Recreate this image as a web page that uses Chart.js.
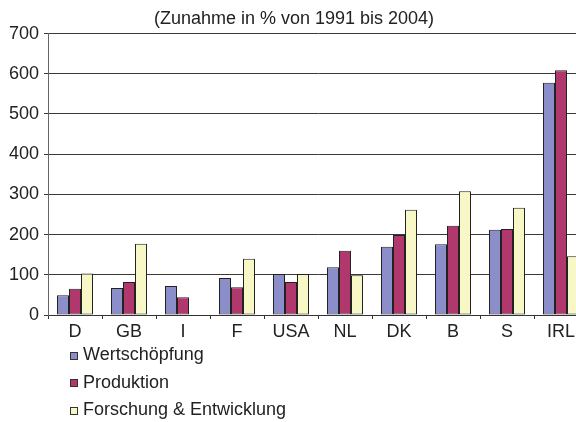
<!DOCTYPE html>
<html lang="de">
<head>
<meta charset="UTF-8">
<title>Zunahme in % von 1991 bis 2004</title>
<script src="https://cdn.jsdelivr.net/npm/chart.js"></script>
<style>
    html, body { margin: 0; padding: 0; background: #fff; overflow: hidden; }
    .chart-box { position: relative; width: 588px; height: 422px; }
</style>
</head>
<body>
<div class="chart-box">
    <canvas id="growthChart"></canvas>
</div>

<script>
    // Länder und Zunahme in % (1991 bis 2004)
    const categories = ['D', 'GB', 'I', 'F', 'USA', 'NL', 'DK', 'B', 'S', 'IRL'];
    const wertschoepfung = [49, 67, 72, 92, 102, 119, 170, 176, 212, 578];
    const produktion = [65, 82, 44, 69, 82, 160, 199, 222, 214, 609];
    const forschung = [103, 177, null, 140, 102, 99, 262, 308, 267, 146];
    const yTicks = [0, 100, 200, 300, 400, 500, 600, 700];

    const seriesNames = ['Wertschöpfung', 'Produktion', 'Forschung & Entwicklung'];
    const seriesColors = ['#8b8ec8', '#b0386c', '#f8f7c6'];
    const fontFamily = '"Liberation Sans", Arial, Helvetica, sans-serif';

    // Legende untereinander, links unter der Achse
    const stackedLegend = {
        id: 'stackedLegend',
        afterDraw(chart) {
            const ctx = chart.ctx;
            ctx.save();
            ctx.font = '18px ' + fontFamily;
            ctx.textBaseline = 'middle';
            chart.data.datasets.forEach((ds, i) => {
                const y = 355.5 + i * 27.5;
                ctx.fillStyle = ds.backgroundColor;
                ctx.fillRect(70, Math.round(y) - 4, 8, 8);
                ctx.strokeStyle = '#333';
                ctx.lineWidth = 1;
                ctx.strokeRect(70.5, Math.round(y) - 3.5, 7, 7);
                ctx.fillStyle = '#222';
                ctx.fillText(ds.label, 83, y);
            });
            ctx.restore();
        }
    };

    function makeSeries(i, values) {
        return {
            label: seriesNames[i],
            data: values,
            backgroundColor: seriesColors[i],
            borderColor: '#222',
            borderWidth: 1,
            borderSkipped: false,
            inflateAmount: 0,
            categoryPercentage: 2 / 3,
            barPercentage: 1.0
        };
    }

    const ctxGrowth = document.getElementById('growthChart').getContext('2d');
    const growthChart = new Chart(ctxGrowth, {
        type: 'bar',
        data: {
            labels: categories,
            datasets: [
                makeSeries(0, wertschoepfung),
                makeSeries(1, produktion),
                makeSeries(2, forschung)
            ]
        },
        options: {
            responsive: true,
            maintainAspectRatio: false,
            animation: false,
            layout: { padding: 0 },
            plugins: {
                legend: { display: false },
                tooltip: { enabled: false },
                title: {
                    display: true,
                    text: '(Zunahme in % von 1991 bis 2004)',
                    color: '#222',
                    font: { family: fontFamily, size: 18, weight: 'normal' },
                    padding: { top: 8, bottom: 4 }
                }
            },
            scales: {
                x: {
                    grid: {
                        offset: true,
                        drawOnChartArea: false,
                        drawTicks: true,
                        tickLength: 4,
                        color: '#333'
                    },
                    border: { color: '#333' },
                    ticks: {
                        color: '#222',
                        padding: 2,
                        font: { family: fontFamily, size: 18 }
                    },
                    afterFit(scale) { scale.height = 107; }
                },
                y: {
                    min: 0,
                    max: 700,
                    afterBuildTicks(scale) {
                        scale.ticks = yTicks.map(v => ({ value: v }));
                    },
                    grid: {
                        color: '#3a3a3a',
                        tickLength: 4,
                        drawTicks: true
                    },
                    border: { color: '#666' },
                    ticks: {
                        color: '#222',
                        padding: 5,
                        font: { family: fontFamily, size: 18 }
                    },
                    afterFit(scale) { scale.width = 48; }
                }
            }
        },
        plugins: [stackedLegend]
    });
</script>
</body>
</html>
